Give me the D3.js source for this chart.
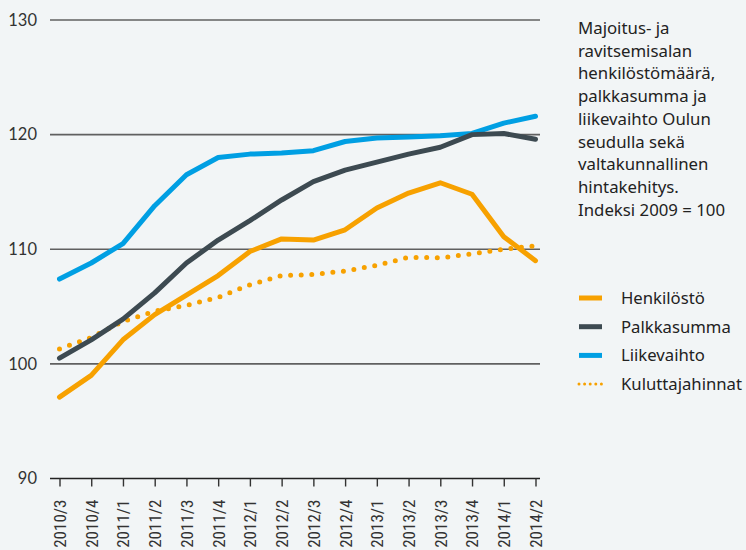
<!DOCTYPE html>
<html>
<head>
<meta charset="utf-8">
<script src="https://cdnjs.cloudflare.com/ajax/libs/d3/7.8.5/d3.min.js"></script>
<style>
  html, body { margin: 0; padding: 0; background: #f2f5f6; }
  #chart { width: 746px; height: 550px; }
</style>
</head>
<body>
<div id="chart"></div>
<script>
// quarters on the x axis
var quarters = ["2010/3", "2010/4", "2011/1", "2011/2", "2011/3", "2011/4",
    "2012/1", "2012/2", "2012/3", "2012/4", "2013/1", "2013/2", "2013/3",
    "2013/4", "2014/1", "2014/2"];

var henkilosto = [97.1, 99.0, 102.1, 104.3, 106.0, 107.7, 109.8, 110.9,
    110.8, 111.7, 113.6, 114.9, 115.8, 114.8, 111.1, 109.0];
var palkkasumma = [100.5, 102.1, 103.9, 106.2, 108.8, 110.8, 112.5, 114.3,
    115.9, 116.9, 117.6, 118.3, 118.9, 120.0, 120.1, 119.6];
var liikevaihto = [107.4, 108.8, 110.5, 113.8, 116.5, 118.0, 118.3, 118.4,
    118.6, 119.4, 119.7, 119.8, 119.9, 120.1, 121.0, 121.6];
var kuluttajahinnat = [101.3, 102.3, 103.7, 104.6, 105.1, 105.8, 106.9, 107.7,
    107.8, 108.1, 108.6, 109.3, 109.25, 109.6, 110.0, 110.3];

var yTicks = [90, 100, 110, 120, 130];

var titleLines = ["Majoitus- ja", "ravitsemisalan", "henkilöstömäärä,",
    "palkkasumma ja", "liikevaihto Oulun", "seudulla sekä",
    "valtakunnallinen", "hintakehitys.", "Indeksi 2009 = 100"];

var series = [
    { name: "Henkilöstö", values: henkilosto, color: "#f7a100", dotted: false },
    { name: "Palkkasumma", values: palkkasumma, color: "#3d4a51", dotted: false },
    { name: "Liikevaihto", values: liikevaihto, color: "#009fe3", dotted: false },
    { name: "Kuluttajahinnat", values: kuluttajahinnat, color: "#f7a100", dotted: true }
];

var numFont = "Lato, 'Noto Sans', sans-serif";
var textFont = "'Noto Sans', 'Open Sans', sans-serif";

var svg = d3.select("#chart").append("svg")
    .attr("width", 746)
    .attr("height", 550);

var x = d3.scalePoint()
    .domain(quarters)
    .range([59.5, 535.5]);

var y = d3.scaleLinear()
    .domain([90, 130])
    .range([478.5, 20]);

// horizontal grid lines
svg.append("g")
    .selectAll("line")
    .data(yTicks)
    .enter().append("line")
    .attr("x1", 50)
    .attr("x2", 540)
    .attr("y1", d => y(d))
    .attr("y2", d => y(d))
    .attr("stroke", d => d === 90 ? "#222" : "#606060")
    .attr("stroke-width", 1.6);

// y labels
svg.append("g")
    .selectAll("text")
    .data(yTicks)
    .enter().append("text")
    .attr("x", 37)
    .attr("y", d => y(d))
    .attr("dy", "0.35em")
    .attr("text-anchor", "end")
    .style("font-family", numFont)
    .style("font-size", "16.5px")
    .style("fill", "#333")
    .text(d => d);

// x axis
var xAxis = svg.append("g")
    .attr("transform", "translate(0," + y(90) + ")")
    .call(d3.axisBottom(x).tickSize(8).tickSizeOuter(0).tickPadding(6));

xAxis.select(".domain").remove();
xAxis.selectAll(".tick line").attr("stroke", "#333").attr("stroke-width", 1.4);
xAxis.selectAll(".tick text")
    .attr("transform", "rotate(-90)")
    .attr("x", -21)
    .attr("y", 0)
    .attr("dy", "0.35em")
    .attr("text-anchor", "end")
    .style("font-family", "'Liberation Sans Narrow', 'Roboto Condensed', 'Arial Narrow', sans-serif")
    .style("font-size", "17px")
    .style("fill", "#333");

// lines
var line = d3.line()
    .x((d, i) => x(quarters[i]))
    .y(d => y(d));

svg.append("g")
    .selectAll("path")
    .data(series.slice().reverse())
    .enter().append("path")
    .attr("d", d => line(d.values))
    .attr("fill", "none")
    .attr("stroke", d => d.color)
    .attr("stroke-width", 5)
    .attr("stroke-linecap", "round")
    .attr("stroke-linejoin", "round")
    .attr("stroke-dasharray", d => d.dotted ? "0 10.6" : null);

// title text
svg.append("text")
    .attr("x", 578)
    .attr("y", 34)
    .style("font-family", textFont)
    .style("font-size", "16.8px")
    .style("fill", "#222")
    .selectAll("tspan")
    .data(titleLines)
    .enter().append("tspan")
    .attr("x", 578)
    .attr("dy", (d, i) => i === 0 ? 0 : 22.7)
    .text(d => d);

// legend
var legend = svg.append("g")
    .selectAll("g")
    .data(series)
    .enter().append("g")
    .attr("transform", (d, i) => "translate(578," + (298 + i * 28.7) + ")");

legend.append("line")
    .attr("x1", 1)
    .attr("x2", 24)
    .attr("stroke", d => d.color)
    .attr("stroke-width", d => d.dotted ? 3 : 5)
    .attr("stroke-linecap", d => d.dotted ? "round" : "butt")
    .attr("stroke-dasharray", d => d.dotted ? "0 5.6" : null);

legend.append("text")
    .attr("x", 43)
    .attr("dy", "0.35em")
    .style("font-family", textFont)
    .style("font-size", "16.7px")
    .style("fill", "#222")
    .text(d => d.name);
</script>
</body>
</html>
